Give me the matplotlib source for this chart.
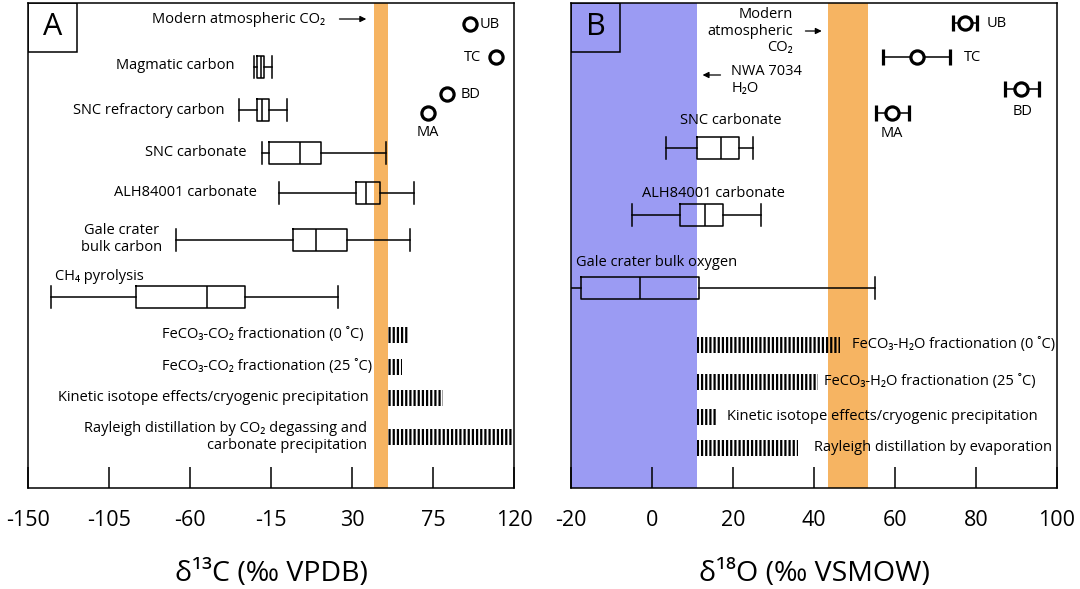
import matplotlib
matplotlib.use("Agg")
import matplotlib.pyplot as plt
from matplotlib.patches import Rectangle

plt.rcParams['font.family'] = ['Open Sans', 'DejaVu Sans']
plt.rcParams['hatch.linewidth'] = 1.6

# ---------------- panel A: d13C ----------------
a_box_names = ["Magmatic carbon", "SNC refractory carbon", "SNC carbonate",
               "ALH84001 carbonate", "Gale crater\nbulk carbon", "CH₄ pyrolysis"]
a_whislo = [-24.5, -33, -20, -10.5, -68, -137]
a_q1 = [-23, -23, -16, 32, -3, -90]
a_med = [-20.5, -20, 1, 38, 10, -50.5]
a_q3 = [-19, -16, 13, 45.5, 27, -29.5]
a_whishi = [-14.5, -6, 49, 64.5, 62, 22]

a_pt_names = ["UB", "TC", "BD", "MA"]
a_pt_vals = [95.5, 110, 83, 72]

a_frac_names = ["FeCO₃-CO₂ fractionation (0 ˚C)", "FeCO₃-CO₂ fractionation (25 ˚C)",
                "Kinetic isotope effects/cryogenic precipitation",
                "Rayleigh distillation by CO₂ degassing and\ncarbonate precipitation"]
a_frac_lo = [50, 50, 50, 50]
a_frac_hi = [61, 58, 80.5, 119]

a_band = [42, 50]
a_ticks = [-150, -105, -60, -15, 30, 75, 120]

# ---------------- panel B: d18O ----------------
b_box_names = ["SNC carbonate", "ALH84001 carbonate", "Gale crater bulk oxygen"]
b_whislo = [3.5, -5, -25]
b_q1 = [11, 7, -17.5]
b_med = [17, 13, -3]
b_q3 = [21.5, 17.5, 11.5]
b_whishi = [25, 27, 55]

b_pt_names = ["UB", "TC", "BD", "MA"]
b_pt_vals = [77.3, 65.4, 91.1, 59.2]
b_pt_lo = [74.3, 57.0, 87.2, 55.2]
b_pt_hi = [80.2, 73.6, 95.6, 63.4]

b_frac_names = ["FeCO₃-H₂O fractionation (0 ˚C)", "FeCO₃-H₂O fractionation (25 ˚C)",
                "Kinetic isotope effects/cryogenic precipitation",
                "Rayleigh distillation by evaporation"]
b_frac_lo = [11, 11, 11, 11]
b_frac_hi = [46.5, 41, 16, 36]

b_blue = [-20, 11]
b_band = [43.5, 53.3]
b_ticks = [-20, 0, 20, 40, 60, 80, 100]

ORANGE = '#f6b462'
BLUE = '#9b9bf3'
FS = 10.5
LW = 1.1


def boxes(ax, ys, lo, q1, med, q3, hi):
    stats = [dict(whislo=a, q1=b, med=c, q3=d, whishi=e)
             for a, b, c, d, e in zip(lo, q1, med, q3, hi)]
    props = dict(color='black', linewidth=LW)
    ax.bxp(stats, positions=ys, widths=22, capwidths=22, orientation='horizontal',
           showfliers=False, boxprops=props, whiskerprops=props,
           capprops=props, medianprops=props, manage_ticks=False)


def hatched(ax, ys, lo, hi):
    for y, a, b in zip(ys, lo, hi):
        ax.barh(y, b - a, left=a, height=16, fill=False, hatch='||||',
                edgecolor='black', linewidth=0)


def setup(ax, xlim, ticks, label, letter):
    ax.set_xlim(*xlim)
    ax.set_ylim(485, 0)
    ax.set_xticks(ticks)
    ax.set_xticklabels([str(t) for t in ticks])
    ax.set_yticks([])
    ax.tick_params(axis='x', direction='in', length=15, width=LW,
                   labelsize=15.5, pad=16)
    for s in ax.spines.values():
        s.set_linewidth(LW)
    ax.set_xlabel(label, fontsize=20.5, labelpad=21)
    ax.add_patch(Rectangle((0, 0.899), 0.1008, 0.101, transform=ax.transAxes,
                           fill=False, lw=LW, zorder=5))
    ax.text(0.0504, 0.9495, letter, transform=ax.transAxes, ha='center',
            va='center', fontsize=22, zorder=6)


fig = plt.figure(figsize=(10.8, 5.89), dpi=100)
axA = fig.add_axes([0.0259, 0.1715, 0.45, 0.8234])
axB = fig.add_axes([0.5287, 0.1715, 0.45, 0.8234])

# ---- panel A ----
axA.axvspan(*a_band, color=ORANGE, lw=0, zorder=0)
rows_a = [64, 107, 150, 190, 237, 294]
boxes(axA, rows_a, a_whislo, a_q1, a_med, a_q3, a_whishi)
lab_x = [-35.5, -41, -28.5, -23, -98, -135]
lab_y = [62, 107, 150, 190, 236, 274]
lab_ha = ['right', 'right', 'right', 'right', 'center', 'left']
for name, x, y, ha in zip(a_box_names, lab_x, lab_y, lab_ha):
    axA.text(x, y, name, ha=ha, va='center', fontsize=FS, multialignment='center')

pt_rows_a = [21, 54, 91, 110]
axA.plot(a_pt_vals, pt_rows_a, 'o', ms=9.5, mfc='white', mec='black', mew=2.3, ls='none')
axA.text(101, 21, "UB", ha='left', va='center', fontsize=FS)
axA.text(102, 54, "TC", ha='right', va='center', fontsize=FS)
axA.text(90.5, 91, "BD", ha='left', va='center', fontsize=FS)
axA.text(72, 130, "MA", ha='center', va='center', fontsize=FS)

frac_rows_a = [332, 364, 395, 434]
hatched(axA, frac_rows_a, a_frac_lo, a_frac_hi)
for name, x, y in zip(a_frac_names, [36.7, 41, 39, 38.3], frac_rows_a):
    axA.text(x, y, name, ha='right', va='center', fontsize=FS, multialignment='right')

axA.annotate("", xy=(39.5, 16), xytext=(21.5, 16),
             arrowprops=dict(arrowstyle='-|>', lw=0.9, color='black', mutation_scale=9))
axA.text(15, 16, "Modern atmospheric CO₂", ha='right', va='center', fontsize=FS)
setup(axA, (-150, 120), a_ticks, "δ¹³C (‰ VPDB)", "A")

# ---- panel B ----
axB.axvspan(*b_blue, color=BLUE, lw=0, zorder=0)
axB.axvspan(*b_band, color=ORANGE, lw=0, zorder=0)
rows_b = [145, 212, 285]
boxes(axB, rows_b, b_whislo, b_q1, b_med, b_q3, b_whishi)
axB.text(19.4, 118, b_box_names[0], ha='center', va='center', fontsize=FS)
axB.text(15.1, 191, b_box_names[1], ha='center', va='center', fontsize=FS)
axB.text(-18.8, 260, b_box_names[2], ha='left', va='center', fontsize=FS)

pt_rows_b = [20, 54, 86, 110]
axB.errorbar(b_pt_vals, pt_rows_b,
             xerr=[[v - l for v, l in zip(b_pt_vals, b_pt_lo)],
                   [h - v for v, h in zip(b_pt_vals, b_pt_hi)]],
             fmt='o', ms=9.5, mfc='white', mec='black', mew=2.3, ecolor='black',
             elinewidth=LW, capsize=6, capthick=LW)
axB.text(82.7, 20, "UB", ha='left', va='center', fontsize=FS)
axB.text(77, 54, "TC", ha='left', va='center', fontsize=FS)
axB.text(91.5, 109, "BD", ha='center', va='center', fontsize=FS)
axB.text(59.2, 131, "MA", ha='center', va='center', fontsize=FS)

frac_rows_b = [342, 379, 414, 445]
hatched(axB, frac_rows_b, b_frac_lo, b_frac_hi)
for name, x, y in zip(b_frac_names, [49.3, 42.4, 18.4, 40.1], frac_rows_b):
    axB.text(x, y, name, ha='left', va='center', fontsize=FS)

axB.text(34.7, 28, "Modern\natmospheric\nCO₂", ha='right', va='center',
         fontsize=FS, multialignment='right', linespacing=1.1)
axB.annotate("", xy=(42.6, 28), xytext=(37.2, 28),
             arrowprops=dict(arrowstyle='-|>', lw=0.9, color='black', mutation_scale=9))
axB.text(19.6, 77, "NWA 7034\nH₂O", ha='left', va='center', fontsize=FS,
         multialignment='left', linespacing=1.1)
axB.annotate("", xy=(11.8, 72), xytext=(17.6, 72),
             arrowprops=dict(arrowstyle='-|>', lw=0.9, color='black', mutation_scale=9))
setup(axB, (-20, 100), b_ticks, "δ¹⁸O (‰ VSMOW)", "B")

fig.savefig("out.png", dpi=100)
